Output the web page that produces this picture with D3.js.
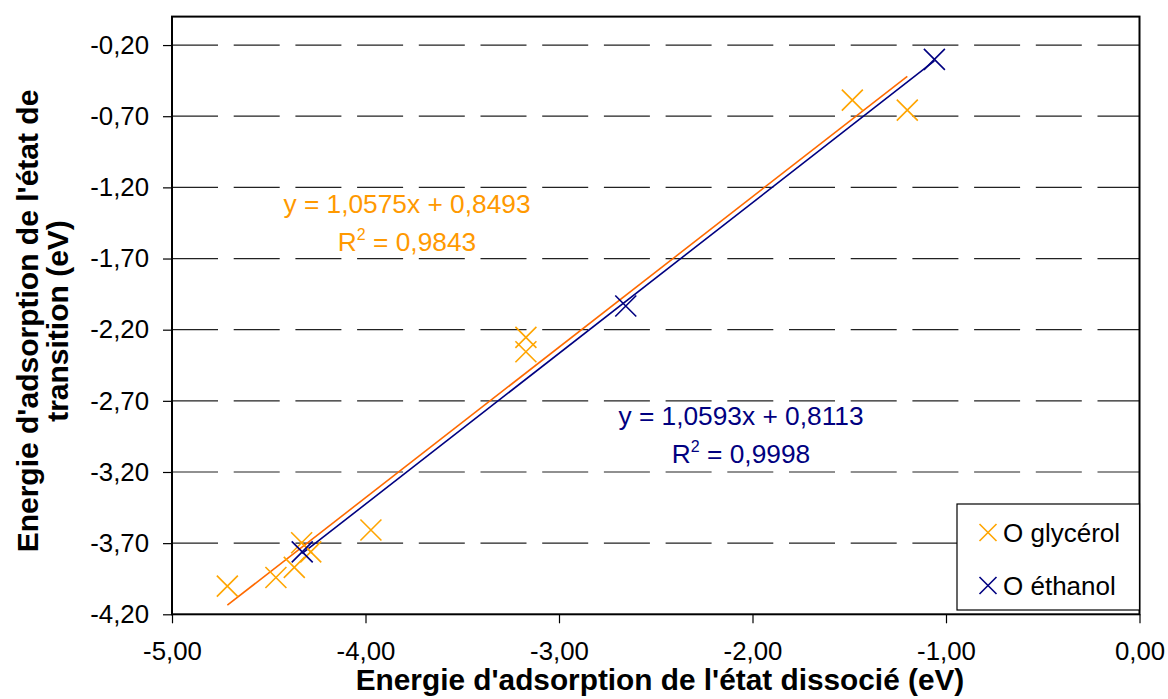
<!DOCTYPE html>
<html><head><meta charset="utf-8">
<script src="https://cdn.jsdelivr.net/npm/d3@7"></script>
<style>
html,body{margin:0;padding:0;background:#fff;}
svg{display:block;font-family:"Liberation Sans",Arial,sans-serif;}
</style></head>
<body>
<svg id="c" width="1168" height="699"></svg>
<script>
// ---- data ----
const glycX = [-4.714, -4.463, -4.368, -4.330, -4.283, -3.972, -3.171, -3.171, -1.484, -1.200];
const glycY = [-4.002, -3.941, -3.870, -3.697, -3.761, -3.608, -2.254, -2.355, -0.587, -0.657];
const ethX = [-4.327, -2.655, -1.060];
const ethY = [-3.761, -2.034, -0.301];
const glycFit = [1.0575, 0.8493]; // slope, intercept
const ethFit = [1.0593, 0.8113];
const xTicks = [-5, -4, -3, -2, -1, 0];
const yTicks = [-4.2, -3.7, -3.2, -2.7, -2.2, -1.7, -1.2, -0.7, -0.2];
const seriesNames = ["O glycérol", "O éthanol"];
const glycEqText = ["y = 1,0575x + 0,8493", "0,9843"];
const ethEqText = ["y = 1,0593x + 0,8113", "0,9998"];
const xTitle = "Energie d'adsorption de l'état dissocié (eV)";
const yTitle = ["Energie d'adsorption de l'état de", "transition (eV)"];

// ---- styles ----
const cGlyc = "#FFA500", cGlycLine = "#FF6A00", cGlycText = "#FF9900";
const cEth = "#000080";

const svg = d3.select("#c");
const L = 172, R = 1139.5, T = 16.6, B = 614.3;
const x = d3.scaleLinear().domain([-5, 0]).range([L, R]);
const y = d3.scaleLinear().domain([-4.2, 0]).range([B, T]);
const fmt = v => d3.format(".2f")(v).replace("−", "-").replace(".", ",");

// gridlines
svg.append("g").selectAll("line").data(yTicks.filter(v => v > -4.2)).join("line")
  .attr("x1", L).attr("x2", R).attr("y1", d => y(d)).attr("y2", d => y(d))
  .attr("stroke", "#222").attr("stroke-width", 1.2).attr("stroke-dasharray", "46,15.7");

// axes
const yAxis = d3.axisLeft(y).tickValues(yTicks).tickSize(9).tickFormat(fmt);
const gy = svg.append("g").attr("transform", `translate(${L},0)`).call(yAxis);
gy.select(".domain").remove();
gy.selectAll("line").attr("stroke", "#000").attr("stroke-width", 1.2);
gy.selectAll("text").attr("font-size", 25.8).attr("font-family", "Liberation Sans, Arial, sans-serif")
  .attr("fill", "#000").attr("x", -23);

const xAxis = d3.axisBottom(x).tickValues(xTicks).tickSize(9).tickFormat(fmt);
const gx = svg.append("g").attr("transform", `translate(0,${B})`).call(xAxis);
gx.select(".domain").remove();
gx.selectAll("line").attr("stroke", "#000").attr("stroke-width", 1.2);
gx.selectAll("text").attr("font-size", 25.8).attr("font-family", "Liberation Sans, Arial, sans-serif")
  .attr("fill", "#000").attr("y", 27).attr("dy", "0.71em");

// plot border
svg.append("rect").attr("x", L).attr("y", T).attr("width", R - L).attr("height", B - T)
  .attr("fill", "none").attr("stroke", "#000").attr("stroke-width", 2);

// trend lines
function trend(xs, fit, color) {
  const x0 = d3.min(xs), x1 = d3.max(xs);
  svg.append("line")
    .attr("x1", x(x0)).attr("y1", y(fit[0] * x0 + fit[1]))
    .attr("x2", x(x1)).attr("y2", y(fit[0] * x1 + fit[1]))
    .attr("stroke", color).attr("stroke-width", 1.6);
}
trend(glycX, glycFit, cGlycLine);
trend(ethX, ethFit, cEth);

// markers
function cross(g, cx, cy, h, color, w) {
  g.append("path").attr("d", `M${cx - h},${cy - h}L${cx + h},${cy + h}M${cx - h},${cy + h}L${cx + h},${cy - h}`)
    .attr("stroke", color).attr("stroke-width", w).attr("fill", "none");
}
const gm = svg.append("g");
glycX.forEach((v, i) => cross(gm, x(v), y(glycY[i]), 10.5, cGlyc, 1.6));
ethX.forEach((v, i) => cross(gm, x(v), y(ethY[i]), 10.5, cEth, 1.6));

// equations
function eq(cx, by, lines, color) {
  const g = svg.append("g").attr("fill", color).attr("font-size", 26.3).attr("text-anchor", "middle");
  g.append("text").attr("x", cx).attr("y", by).text(lines[0]);
  const t = g.append("text").attr("x", cx).attr("y", by + 37.5);
  t.append("tspan").text("R");
  t.append("tspan").attr("font-size", 16).attr("dy", -11).text("2");
  t.append("tspan").attr("dy", 11).text(" = " + lines[1]);
}
eq(407, 213, glycEqText, cGlycText);
eq(741, 425, ethEqText, cEth);

// legend
const lg = svg.append("g");
lg.append("rect").attr("x", 957).attr("y", 504).attr("width", R - 957).attr("height", 106)
  .attr("fill", "#fff").attr("stroke", "#000").attr("stroke-width", 1.2);
[[cGlyc, 532.5], [cEth, 585.5]].forEach((d, i) => {
  cross(lg, 988, d[1], 8.5, d[0], 1.6);
  lg.append("text").attr("x", 1003).attr("y", d[1]).attr("dy", "0.36em")
    .attr("font-size", 26).attr("fill", "#000").text(seriesNames[i]);
});

// axis titles
svg.append("text").attr("x", 660).attr("y", 690).attr("text-anchor", "middle")
  .attr("font-size", 29.8).attr("font-weight", "bold").attr("fill", "#000").text(xTitle);
const yt = svg.append("g").attr("transform", "translate(0,321) rotate(-90)");
yTitle.forEach((s, i) => {
  yt.append("text").attr("x", 0).attr("y", 38 + i * 30).attr("text-anchor", "middle")
    .attr("font-size", 30).attr("font-weight", "bold").attr("fill", "#000").text(s);
});
</script>
</body></html>
